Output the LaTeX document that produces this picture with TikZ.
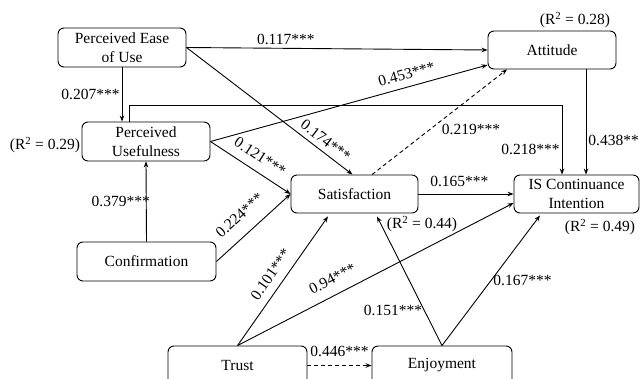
\documentclass[tikz,border=0pt]{standalone}
\usepackage{fontspec}
\setmainfont{Liberation Serif}
\usetikzlibrary{arrows.meta}
\begin{document}
\begin{tikzpicture}[x=1pt,y=-1pt,
  box/.style={draw, line width=0.9pt, rounded corners=6pt, align=center, inner sep=0pt, font=\fontsize{15.5}{19}\selectfont},
  lbl/.style={font=\fontsize{15.5}{19}\selectfont, inner sep=2pt},
  arr/.style={line width=0.9pt, -{Stealth[length=6pt,width=4.5pt]}},
  darr/.style={arr, dashed, dash pattern=on 4pt off 3pt},
]
\useasboundingbox (0,0) rectangle (640,379);

% nodes
\node[box, minimum width=128pt, minimum height=39pt] (peu) at (122,47.5) {Perceived Ease\\of Use};
\node[box, minimum width=128pt, minimum height=39pt] (pu) at (146,141.5) {Perceived\\Usefulness};
\node[box, minimum width=128pt, minimum height=38pt] (att) at (552,50) {Attitude};
\node[box, minimum width=139pt, minimum height=39pt] (conf) at (146.5,261.5) {Confirmation};
\node[box, minimum width=127pt, minimum height=38pt] (sat) at (354.5,194) {Satisfaction};
\node[box, minimum width=125pt, minimum height=38pt] (isci) at (576.5,194) {IS Continuance\\Intention};
\node[box, minimum width=139pt, minimum height=39pt] (trust) at (237.5,365.5) {Trust};
\node[box, minimum width=140pt, minimum height=39pt] (enj) at (442,365.5) {Enjoyment};

% R squared
\node[lbl] (r1) at (575,20) {(R\textsuperscript{2} = 0.28)};
\node[lbl] (r2) at (45,145) {(R\textsuperscript{2} = 0.29)};
\node[lbl] (r3) at (422,224) {(R\textsuperscript{2} = 0.44)};
\node[lbl] (r4) at (600,227) {(R\textsuperscript{2} = 0.49)};

% connectors
\draw[arr] (peu.east) -- node[lbl, pos=0.33, above=1.5pt] {0.117***} (att.west);
\draw[arr] (peu.south) -- node[lbl, pos=0.5, left] {0.207***} (peu.south |- pu.north);
\draw[arr] (peu.east) -- node[lbl, pos=0.8, sloped, above=3pt] {0.174***} ([xshift=-2pt]sat.north);
\draw[arr] (pu.east) -- node[lbl, pos=0.72, sloped, above=5pt] {0.453***} ([yshift=-15pt]att.west);
\draw[arr] ([xshift=-17pt]pu.north) -- ++(0,-16) -| node[lbl, pos=0.82, left] {0.218***} ([xshift=-14.5pt]isci.north);
\draw[arr] (pu.east) -- node[lbl, pos=0.52, sloped, above=7pt] {0.121***} (sat.west);
\draw[arr] ([xshift=34pt]att.south) -- node[lbl, pos=0.68, right] {0.438**} ([xshift=34pt]att.south |- isci.north);
\draw[darr] ([xshift=17.5pt]sat.north) -- node[lbl, pos=0.5, anchor=north west] {0.219***} ([xshift=-45pt]att.south);
\draw[arr] (sat.east) -- node[lbl, pos=0.43, above=4.5pt] {0.165***} (isci.west);
\draw[arr] (conf.north) -- node[lbl, pos=0.5, left, xshift=6pt] {0.379***} (pu.south);
\draw[arr] (conf.east) -- node[lbl, pos=0.48, sloped, above=11pt] {0.224***} (sat.west);
\draw[arr] (trust.north) -- node[lbl, pos=0.49, sloped, above=6pt] {0.101***} ([xshift=-26.5pt,yshift=-3pt]sat.south);
\draw[arr] (trust.north) -- node[lbl, pos=0.37, sloped, above=8pt] {0.94***} ([yshift=-9pt]isci.west);
\draw[darr] (trust.east) -- node[lbl, pos=0.5, above=6pt] {0.446***} (enj.west);
\draw[arr] (enj.north) -- node[lbl, pos=0.27, left] {0.151***} ([xshift=22.5pt,yshift=-3pt]sat.south);
\draw[arr] (enj.north) -- node[lbl, pos=0.5, right] {0.167***} ([xshift=-36.5pt,yshift=-2pt]isci.south);
\end{tikzpicture}
\end{document}
